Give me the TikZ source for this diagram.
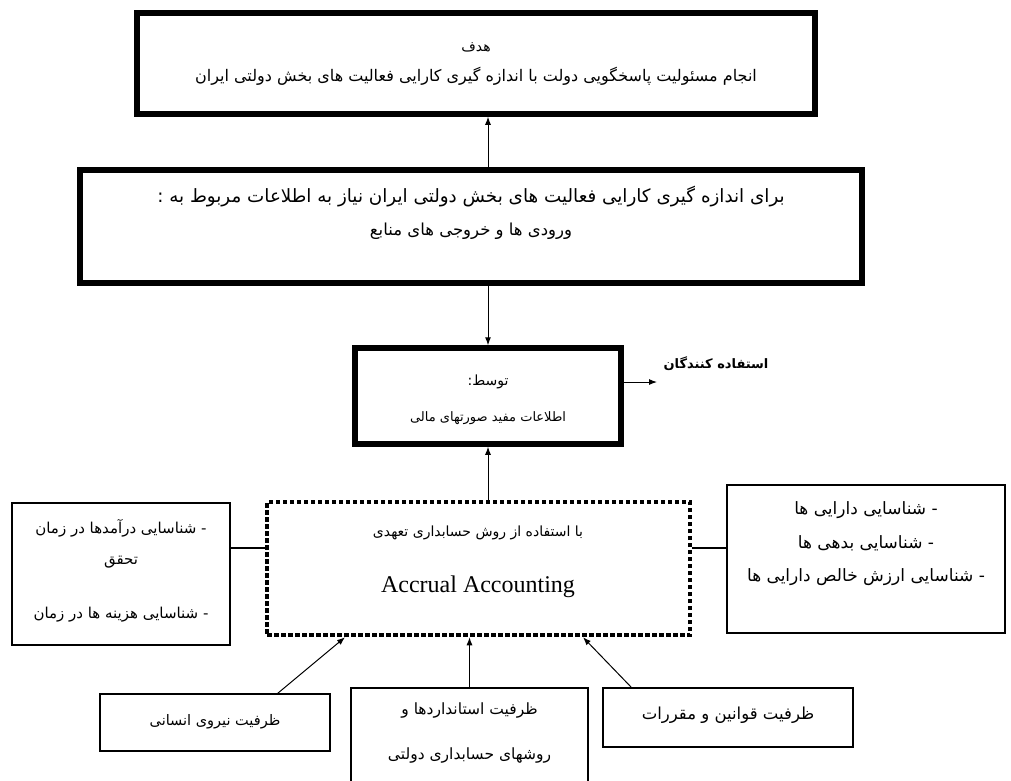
\documentclass[tikz,border=0pt]{standalone}
\usepackage{fontspec}
\usetikzlibrary{arrows.meta,calc}
\TeXXeTstate=1
\newfontfamily\fa[Script=Arabic]{DejaVu Sans}
\newfontfamily\tnr{Liberation Serif}
\newcommand\rl[1]{\beginR #1\endR}
\begin{document}
\begin{tikzpicture}[x=1pt,y=-1pt,
  thickbox/.style={draw, line width=5.5, inner sep=0, fill=white},
  thinbox/.style={draw, line width=1.3, inner sep=0},
  dotbox/.style={draw, line width=4.5, dash pattern=on 4.5 off 2.5, inner sep=0},
  arr/.style={-{Latex[length=8,width=6]}, line width=1},
  link/.style={line width=1.1},
  txt/.style={font=\fa\fontsize{#1}{#1}\selectfont, inner sep=0},
  txt/.default=16,
  btxt/.style={font=\fa\bfseries\fontsize{13}{15}\selectfont, inner sep=0},
  etxt/.style={font=\tnr\fontsize{24}{28}\selectfont, inner sep=0}]
\useasboundingbox[fill=white] (0,0) rectangle (1011,780);

% boxes
\node[thickbox, minimum width=678, minimum height=101] (goal) at (476,63.5) {};
\node[thickbox, minimum width=782, minimum height=113] (need) at (471,226.5) {};
\node[thickbox, minimum width=266, minimum height=96] (info) at (488,396) {};
\node[dotbox, minimum width=423, minimum height=133] (accr) at (478.5,568.5) {};
\node[thinbox, minimum width=218, minimum height=142] (leftb) at (121,574) {};
\node[thinbox, minimum width=278, minimum height=148] (rightb) at (866,559) {};
\node[thinbox, minimum width=230, minimum height=57] (boxA) at (215,722.5) {};
\node[thinbox, minimum width=237, minimum height=112] (boxB) at (469.5,744) {};
\node[thinbox, minimum width=250, minimum height=59] (boxC) at (728,717.5) {};

% texts
\node[txt=14] (g1) at (476,47) {\rl{هدف}};
\node[txt=16] (g2) at (476,76) {\rl{انجام مسئولیت پاسخگویی دولت با اندازه گیری کارایی فعالیت های بخش دولتی ایران}};
\node[txt=18.3] (n1) at (471,197) {\rl{برای اندازه گیری کارایی فعالیت های بخش دولتی ایران نیاز به اطلاعات مربوط به :}};
\node[txt=16.5] (n2) at (471,231) {\rl{ورودی ها و خروجی های منابع}};
\node[txt=14] (i1) at (488,382) {\rl{توسط:}};
\node[txt=13] (i2) at (488,418) {\rl{اطلاعات مفید صورتهای مالی}};
\node[btxt] (users) at (716,364) {\rl{استفاده کنندگان}};
\node[txt=14] (a1) at (478,533) {\rl{با استفاده از روش حسابداری تعهدی}};
\node[etxt] (a2) at (478,587) {Accrual Accounting};
\node[txt=15] (l1) at (121,528) {\rl{- شناسایی درآمدها در زمان}};
\node[txt=15] (l2) at (121,562) {\rl{تحقق}};
\node[txt=15] (l3) at (121,615) {\rl{- شناسایی هزینه ها در زمان}};
\node[txt=17] (r1) at (866,510) {\rl{- شناسایی دارایی ها}};
\node[txt=17] (r2) at (866,543) {\rl{- شناسایی بدهی ها}};
\node[txt=17] (r3) at (866,577) {\rl{- شناسایی ارزش خالص دارایی ها}};
\node[txt=14.5] (tA) at (215,722) {\rl{ظرفیت نیروی انسانی}};
\node[txt=15.5] (tB1) at (469.5,710) {\rl{ظرفیت استانداردها و}};
\node[txt=15.5] (tB2) at (469.5,755) {\rl{روشهای حسابداری دولتی}};
\node[txt=16.5] (tC) at (728,715) {\rl{ظرفیت قوانین و مقررات}};

% connectors
\coordinate (lk) at (0,548);
\coordinate (usersend) at (657,382);
\draw[arr] (need.north -| info.north) -- (goal.south -| info.north);
\draw[arr] (accr.north -| info.north) -- (info.south);
\draw[arr] (need.south -| info.north) -- (info.north);
\draw[arr] ($(info.east)+(0,-14)$) -- (usersend);
\draw[link] (leftb.east |- lk) -- (accr.west |- lk);
\draw[link] (accr.east |- lk) -- (rightb.west |- lk);
\draw[arr] ($(boxA.north east)+(-53,0)$) -- ($(accr.south)+(-133.5,0)$);
\draw[arr] (boxB.north) -- (boxB.north |- accr.south);
\draw[arr] ($(boxC.north west)+(29,0)$) -- ($(accr.south)+(104.5,0)$);
\end{tikzpicture}
\end{document}
